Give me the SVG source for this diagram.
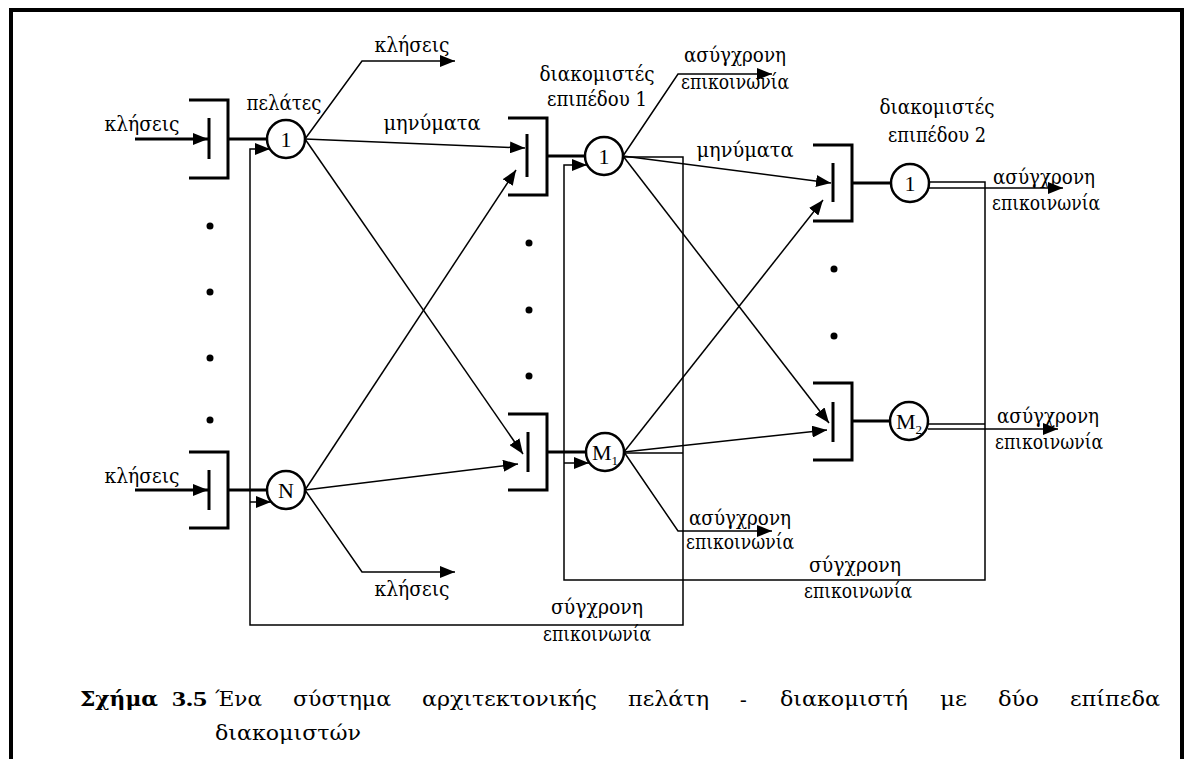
<svg xmlns="http://www.w3.org/2000/svg" width="1184" height="759" viewBox="0 0 1184 759">
  <defs>
    <marker id="arrow" markerUnits="userSpaceOnUse" markerWidth="16" markerHeight="12" refX="15" refY="6" orient="auto">
      <path d="M0,0 L15,6 L0,12 z" fill="#000"/>
    </marker>
  </defs>
  <style>
    .q{fill:none;stroke:#000;stroke-width:3}
    .bar{stroke:#000;stroke-width:3}
    .node{fill:#fff;stroke:#000;stroke-width:2.5}
    .thick{fill:none;stroke:#000;stroke-width:3}
    .thin{fill:none;stroke:#000;stroke-width:1.5}
    .arr{marker-end:url(#arrow)}
    .dot{fill:#000}
    text{font-family:"DejaVu Serif","Liberation Serif",serif;font-size:20px;fill:#000}
    .num{font-family:"Liberation Serif",serif;font-size:22px}
    .lat{font-family:"Liberation Serif",serif}
    .c{text-anchor:middle}
    .sub{font-size:13px}
    .cap{font-size:26px}
    .b{font-weight:bold}
  </style>

  <rect width="1184" height="759" fill="#fff"/>

  <!-- outer frame (open at the bottom) -->
  <path id="frame" d="M11,759 V10 H1182 V759" fill="none" stroke="#000" stroke-width="4"/>

  <!-- connectors -->
  <g id="connectors">
    <!-- client 1 fan-out -->
    <path class="thin arr" d="M305,139 L362,61 H455"/>
    <path class="thin arr" d="M305,139 L525,148"/>
    <path class="thin arr" d="M305,139 L523,454"/>
    <!-- client N fan-out -->
    <path class="thin arr" d="M305,490 L516,170"/>
    <path class="thin arr" d="M305,490 L518,464"/>
    <path class="thin arr" d="M305,490 L362,572 H455"/>

    <!-- level-1 server 1 fan-out -->
    <path class="thin arr" d="M623,156 L678,74 H772"/>
    <path class="thin arr" d="M623,156 L831,183"/>
    <path class="thin arr" d="M623,156 L829,423"/>
    <!-- level-1 server M1 fan-out -->
    <path class="thin arr" d="M624,452 L823,200"/>
    <path class="thin arr" d="M624,452 L827,430"/>
    <path class="thin arr" d="M624,452 L678,531 H772"/>

    <!-- synchronous replies from level 1 back to the clients -->
    <path class="thin arr" d="M623,157 H683 V625 H250 V149 H270"/>
    <path class="thin" d="M624,453 H683"/>
    <path class="thin arr" d="M250,502 H271"/>

    <!-- synchronous replies from level 2 back to level 1 -->
    <path class="thin arr" d="M928,182 H985 V580 H564 V165 H587"/>
    <path class="thin" d="M928,424 H985"/>
    <path class="thin arr" d="M564,463 H589"/>

    <!-- asynchronous outputs of level 2 -->
    <path class="thin arr" d="M928,188 H1063"/>
    <path class="thin arr" d="M928,429 H1058"/>

    <!-- call inputs of the clients -->
    <path class="thick arr" d="M135,139 H208"/>
    <path class="thick arr" d="M135,490 H208"/>

    <!-- queue to server links -->
    <path class="thick" d="M228,139 H267"/>
    <path class="thick" d="M228,490 H267"/>
    <path class="thick" d="M547,156 H585"/>
    <path class="thick" d="M547,452 H586"/>
    <path class="thick" d="M852,183 H891"/>
    <path class="thick" d="M852,421 H890"/>
  </g>

  <!-- clients -->
  <g id="client-1">
    <path class="q" d="M189,100 H228 V178 H189"/>
    <path class="bar" d="M209,118 V159"/>
    <circle class="node" cx="286" cy="139" r="19"/>
    <text class="c num" x="286" y="147">1</text>
  </g>
  <g id="client-N">
    <path class="q" d="M189,452 H228 V528 H189"/>
    <path class="bar" d="M209,470 V510"/>
    <circle class="node" cx="286" cy="490" r="19"/>
    <text class="c num" x="286" y="498">N</text>
  </g>
  <g id="client-dots">
    <circle class="dot" cx="210" cy="226" r="3.5"/>
    <circle class="dot" cx="210" cy="292" r="3.5"/>
    <circle class="dot" cx="210" cy="358" r="3.5"/>
    <circle class="dot" cx="210" cy="420" r="3.5"/>
  </g>

  <!-- level-1 servers -->
  <g id="server1-1">
    <path class="q" d="M508,118 H547 V195 H508"/>
    <path class="bar" d="M527,134 V177"/>
    <circle class="node" cx="604" cy="156" r="19"/>
    <text class="c num" x="604" y="164">1</text>
  </g>
  <g id="server1-M1">
    <path class="q" d="M508,414 H547 V490 H508"/>
    <path class="bar" d="M528,432 V472"/>
    <circle class="node" cx="605" cy="452" r="19"/>
    <text class="num" x="592" y="460">M<tspan class="sub" dy="5">1</tspan></text>
  </g>
  <g id="server1-dots">
    <circle class="dot" cx="529" cy="243" r="3.5"/>
    <circle class="dot" cx="529" cy="310" r="3.5"/>
    <circle class="dot" cx="529" cy="376" r="3.5"/>
  </g>

  <!-- level-2 servers -->
  <g id="server2-1">
    <path class="q" d="M813,145 H852 V221 H813"/>
    <path class="bar" d="M833,163 V202"/>
    <circle class="node" cx="910" cy="183" r="19"/>
    <text class="c num" x="910" y="191">1</text>
  </g>
  <g id="server2-M2">
    <path class="q" d="M813,383 H852 V460 H813"/>
    <path class="bar" d="M833,402 V442"/>
    <circle class="node" cx="909" cy="421" r="19"/>
    <text class="num" x="896" y="429">M<tspan class="sub" dy="5">2</tspan></text>
  </g>
  <g id="server2-dots">
    <circle class="dot" cx="834" cy="269" r="3.5"/>
    <circle class="dot" cx="834" cy="336" r="3.5"/>
  </g>

  <!-- labels -->
  <g id="labels" class="c">
    <text x="142" y="131" textLength="75" lengthAdjust="spacingAndGlyphs">κλήσεις</text>
    <text x="142" y="483" textLength="75" lengthAdjust="spacingAndGlyphs">κλήσεις</text>
    <text x="284" y="110" textLength="75" lengthAdjust="spacingAndGlyphs">πελάτες</text>
    <text x="412" y="52" textLength="75" lengthAdjust="spacingAndGlyphs">κλήσεις</text>
    <text x="432" y="130" textLength="97" lengthAdjust="spacingAndGlyphs">μηνύματα</text>
    <text x="412" y="596" textLength="75" lengthAdjust="spacingAndGlyphs">κλήσεις</text>

    <text x="597" y="81" textLength="115" lengthAdjust="spacingAndGlyphs">διακομιστές</text>
    <text x="597" y="106" textLength="100" lengthAdjust="spacingAndGlyphs">επιπέδου 1</text>
    <text x="735" y="62" textLength="102" lengthAdjust="spacingAndGlyphs">ασύγχρονη</text>
    <text x="735" y="89" textLength="108" lengthAdjust="spacingAndGlyphs">επικοινωνία</text>
    <text x="745" y="157" textLength="97" lengthAdjust="spacingAndGlyphs">μηνύματα</text>
    <text x="740" y="525" textLength="102" lengthAdjust="spacingAndGlyphs">ασύγχρονη</text>
    <text x="740" y="549" textLength="108" lengthAdjust="spacingAndGlyphs">επικοινωνία</text>

    <text x="937" y="114" textLength="115" lengthAdjust="spacingAndGlyphs">διακομιστές</text>
    <text x="937" y="142" textLength="98" lengthAdjust="spacingAndGlyphs">επιπέδου 2</text>
    <text x="1044" y="184" textLength="102" lengthAdjust="spacingAndGlyphs">ασύγχρονη</text>
    <text x="1046" y="210" textLength="108" lengthAdjust="spacingAndGlyphs">επικοινωνία</text>
    <text x="1048" y="423" textLength="102" lengthAdjust="spacingAndGlyphs">ασύγχρονη</text>
    <text x="1049" y="449" textLength="108" lengthAdjust="spacingAndGlyphs">επικοινωνία</text>

    <text x="855" y="572" textLength="92" lengthAdjust="spacingAndGlyphs">σύγχρονη</text>
    <text x="858" y="598" textLength="108" lengthAdjust="spacingAndGlyphs">επικοινωνία</text>
    <text x="597" y="614" textLength="92" lengthAdjust="spacingAndGlyphs">σύγχρονη</text>
    <text x="597" y="641" textLength="108" lengthAdjust="spacingAndGlyphs">επικοινωνία</text>
  </g>

  <!-- caption: justified first line, hanging indent on the second -->
  <g id="caption" class="cap">
    <text class="b" x="80" y="706" textLength="78" lengthAdjust="spacingAndGlyphs">Σχήμα</text>
    <text class="b lat" x="172" y="706" textLength="35" lengthAdjust="spacingAndGlyphs">3.5</text>
    <text x="215" y="706" textLength="47" lengthAdjust="spacingAndGlyphs">Ένα</text>
    <text x="293" y="706" textLength="98" lengthAdjust="spacingAndGlyphs">σύστημα</text>
    <text x="422" y="706" textLength="175" lengthAdjust="spacingAndGlyphs">αρχιτεκτονικής</text>
    <text x="628" y="706" textLength="81" lengthAdjust="spacingAndGlyphs">πελάτη</text>
    <text class="lat" x="740" y="706">-</text>
    <text x="780" y="706" textLength="128" lengthAdjust="spacingAndGlyphs">διακομιστή</text>
    <text x="940" y="706" textLength="27" lengthAdjust="spacingAndGlyphs">με</text>
    <text x="998" y="706" textLength="41" lengthAdjust="spacingAndGlyphs">δύο</text>
    <text x="1070" y="706" textLength="90" lengthAdjust="spacingAndGlyphs">επίπεδα</text>
    <text x="215" y="740" textLength="146" lengthAdjust="spacingAndGlyphs">διακομιστών</text>
  </g>
</svg>
